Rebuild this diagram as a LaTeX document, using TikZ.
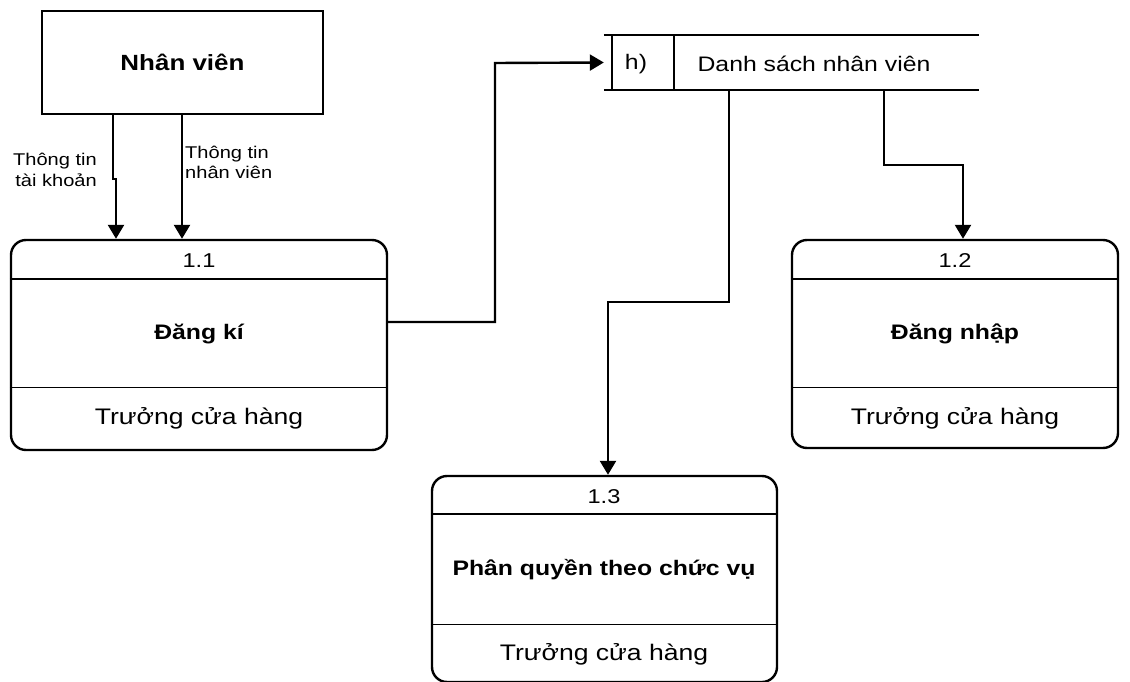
\documentclass[tikz,border=0pt]{standalone}
\usepackage{fontspec}
\setmainfont[FakeStretch=1.18]{Liberation Sans}
\usetikzlibrary{arrows.meta}

\begin{document}
\begin{tikzpicture}[x=1pt,y=-1pt,line width=2.4pt,>={Triangle[length=14pt,width=16pt]}]
   \useasboundingbox (0,0) rectangle (1130,682);
   \begin{scope}[every node/.style={draw=black,rounded corners=15pt}]
    \node[rounded corners=0pt,minimum width=281pt,minimum height=103pt,font=\fontsize{22}{26}\selectfont\bfseries] (nv) at (182.5,62.5) {Nhân viên};
    \node[minimum width=376pt,minimum height=210pt] (p11) at (199,345) {};
    \node[minimum width=326pt,minimum height=208pt] (p12) at (955,344) {};
    \node[minimum width=345pt,minimum height=206pt] (p13) at (604.5,579) {};
   \end{scope}
   \node[minimum width=373pt,minimum height=53pt,inner sep=0pt] (ds) at (791.5,62.5) {};
   % kho du lieu
   \draw (ds.north west) -- (ds.north east);
   \draw (ds.south west) -- (ds.south east);
   \draw (ds.north -| 612,0) -- (ds.south -| 612,0);
   \draw (ds.north -| 674,0) -- (ds.south -| 674,0);
   \node[font=\fontsize{21}{24}\selectfont] (dsid) at (636,64) {h)};
   \node[font=\fontsize{21}{24}\selectfont] (dsname) at (814,64) {Danh sách nhân viên};
   % o xu ly
   \draw (p11.west |- 0,279) -- (p11.east |- 0,279);
   \draw[line width=1pt] (p11.west |- 0,387) -- (p11.east |- 0,387);
   \draw (p12.west |- 0,279) -- (p12.east |- 0,279);
   \draw[line width=1pt] (p12.west |- 0,387) -- (p12.east |- 0,387);
   \draw (p13.west |- 0,514) -- (p13.east |- 0,514);
   \draw[line width=1pt] (p13.west |- 0,624) -- (p13.east |- 0,624);
   \begin{scope}[every node/.style={font=\fontsize{22.5}{26}\selectfont}]
    \node[font=\fontsize{20}{24}\selectfont] (p11id) at (199,261) {1.1};
    \node[font=\fontsize{21}{24}\selectfont\bfseries] (p11name) at (199,334) {Đăng kí};
    \node (p11who) at (199,418) {Trưởng cửa hàng};
    \node[font=\fontsize{20}{24}\selectfont] (p12id) at (955,261) {1.2};
    \node[font=\fontsize{21}{24}\selectfont\bfseries] (p12name) at (955,334) {Đăng nhập};
    \node (p12who) at (955,418) {Trưởng cửa hàng};
    \node[font=\fontsize{20}{24}\selectfont] (p13id) at (604,497) {1.3};
    \node[font=\fontsize{21}{24}\selectfont\bfseries] (p13name) at (604,570) {Phân quyền theo chức vụ};
    \node (p13who) at (604,654) {Trưởng cửa hàng};
   \end{scope}
   % luong du lieu
   \draw[->] (nv.south -| 113,0) -- (113,179) -- (116,179) -- (p11.north -| 116,0);
   \draw[->] (nv.south -| 182,0) -- (p11.north -| 182,0);
   \node[font=\fontsize{17}{21}\selectfont,align=right,anchor=east,inner sep=0pt] (lb1) at (98,170) {Thông tin\\tài khoản};
   \node[font=\fontsize{17}{20}\selectfont,align=left,anchor=west,inner sep=0pt] (lb2) at (184,162) {Thông tin\\nhân viên};
   \draw[->] (p11.east |- 0,322) -- (495,322) -- (495,63) -- (ds.west);
   \draw[->] (ds.south -| 729,0) -- (729,302) -- (608,302) -- (p13.north -| 608,0);
   \draw[->] (ds.south -| 884,0) -- (884,165) -- (963,165) -- (p12.north -| 963,0);
\end{tikzpicture}
\end{document}
